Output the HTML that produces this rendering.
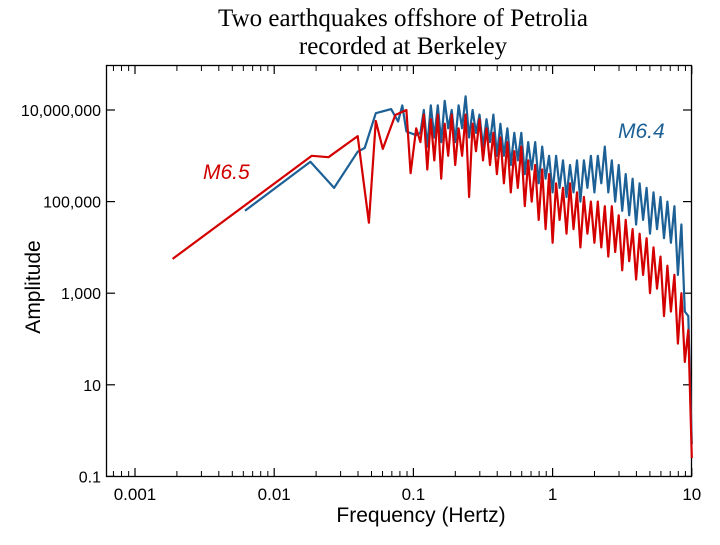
<!DOCTYPE html>
<html><head><meta charset="utf-8"><style>
body{margin:0;background:#fff;width:720px;height:540px;overflow:hidden}
svg text{font-family:"Liberation Sans",sans-serif}
</style></head><body>
<svg id="chart" width="720" height="540" xmlns="http://www.w3.org/2000/svg">
<text x="403" y="26" text-anchor="middle" style="font-family:'Liberation Serif',serif;font-size:25px">Two earthquakes offshore of Petrolia</text>
<text x="403" y="54" text-anchor="middle" style="font-family:'Liberation Serif',serif;font-size:25px">recorded at Berkeley</text>
<rect x="106.5" y="65.5" width="585" height="411" fill="none" stroke="#000" stroke-width="1.3"/>
<g id="ticks"></g>
<g id="series"></g>
<text transform="translate(40,287) rotate(-90)" text-anchor="middle" font-size="21">Amplitude</text>
<text x="421" y="522" text-anchor="middle" font-size="21">Frequency (Hertz)</text>
<text x="203" y="179" font-size="21" font-style="italic" fill="#d00000">M6.5</text>
<text x="618" y="138" font-size="21" font-style="italic" fill="#1c6096">M6.4</text>
</svg>
<script>
const xTickValues=[0.001,0.01,0.1,1,10];
const xTickLabels=["0.001","0.01","0.1","1","10"];
const yTickValues=[1e7,1e5,1e3,10,0.1];
const yTickLabels=["10,000,000","100,000","1,000","10","0.1"];
const noisyLogF=[-0.95,-0.925,-0.9,-0.875,-0.85,-0.825,-0.8,-0.775,-0.75,-0.725,-0.7,-0.675,-0.65,-0.625,-0.6,-0.575,-0.55,-0.525,-0.5,-0.475,-0.45,-0.425,-0.4,-0.375,-0.35,-0.325,-0.3,-0.275,-0.25,-0.225,-0.2,-0.175,-0.15,-0.125,-0.1,-0.075,-0.05,-0.025,0,0.025,0.05,0.075,0.1,0.125,0.15,0.175,0.2,0.225,0.25,0.275,0.3,0.325,0.35,0.375,0.4,0.425,0.45,0.475,0.5,0.525,0.55,0.575,0.6,0.625,0.65,0.675,0.7,0.725,0.75,0.775,0.8,0.825,0.85,0.875,0.9,0.925,0.95,0.975,1.0];
const redLowLogF=[-2.73,-1.73,-1.61,-1.40,-1.32,-1.27,-1.22,-1.13,-1.05,-1.02,-0.98];
const redLowLogA=[3.75,6.0,5.97,6.43,4.54,6.76,6.15,6.89,7.0,5.62,6.6];
const redNoisyLogA=[6.3,6.9,5.7,6.8,5.9,6.9,5.5,6.7,6.0,6.9,5.8,6.6,6.0,6.9,5.1,6.7,6.1,6.8,5.9,6.6,5.8,6.5,5.6,6.4,5.4,6.3,5.2,6.1,5.3,6.2,4.9,5.9,5.0,5.8,4.6,5.7,4.4,5.6,4.1,5.4,4.6,5.3,4.3,5.4,4.4,5.2,4.0,5.1,4.3,5.0,4.1,5.0,4.0,4.9,3.8,4.9,3.9,4.7,3.5,4.6,3.7,4.4,3.3,4.3,3.4,4.2,3.0,4.0,3.1,3.8,2.5,3.6,2.6,3.4,1.9,3.0,1.5,2.2,-0.6];
const blueLowLogF=[-2.21,-1.74,-1.57,-1.40,-1.35,-1.27,-1.16,-1.11,-1.08,-1.05,-0.98];
const blueLowLogA=[4.8,5.87,5.3,6.09,6.17,6.93,7.02,6.75,7.1,6.53,6.45];
const blueNoisyLogA=[6.5,7.0,6.2,7.1,6.4,7.1,6.3,7.2,6.6,7.0,6.3,7.1,6.6,7.3,6.4,7.0,6.5,6.9,6.2,6.8,6.3,6.9,6.0,6.7,6.0,6.6,5.8,6.5,5.9,6.5,5.6,6.3,5.7,6.3,5.4,6.2,5.5,6.0,5.2,6.0,5.3,5.9,5.1,5.8,5.2,5.9,5.0,5.9,5.3,6.0,5.2,6.0,5.4,6.2,5.2,5.9,5.0,5.8,4.8,5.6,4.7,5.5,4.5,5.4,4.6,5.3,4.3,5.2,4.4,5.1,4.2,5.0,4.1,4.9,3.4,4.5,2.6,2.5,-0.3];

const NS="http://www.w3.org/2000/svg";
const X0=135,PXD=139.2,Y0=110,PYD=45.8;
function xScale(lf){return X0+(lf+3)*PXD;}
function yScale(la){return Y0+(7-la)*PYD;}
function mk(t,a,p){const e=document.createElementNS(NS,t);for(const k in a)e.setAttribute(k,a[k]);p.appendChild(e);return e;}
const tg=document.getElementById('ticks');
xTickValues.forEach((v,i)=>{
  const x=xScale(Math.log10(v));
  const t1=mk('line',{x1:x,x2:x,y1:476,y2:468,stroke:'#000','stroke-width':1.2},tg);
  
  
  const t2=mk('line',{x1:x,x2:x,y1:66,y2:74,stroke:'#000','stroke-width':1.2},tg);
  
  
  const l=mk('text',{x:x,y:500,'text-anchor':'middle','font-size':17},tg);
  l.textContent=xTickLabels[i];
  
  
  if(i<xTickValues.length-1){
    for(let m=2;m<=9;m++){
      const xm=xScale(Math.log10(v*m));
      const a=mk('line',{x1:xm,x2:xm,y1:476,y2:471,stroke:'#000','stroke-width':1},tg);
      
      
      const b=mk('line',{x1:xm,x2:xm,y1:66,y2:71,stroke:'#000','stroke-width':1},tg);
      
      
    }
  }
});
for(let m=7;m<=9;m++){const xm=xScale(Math.log10(0.0001*m));
  const a=mk('line',{x1:xm,x2:xm,y1:476,y2:471,stroke:'#000','stroke-width':1},tg);
  
  
  const b=mk('line',{x1:xm,x2:xm,y1:66,y2:71,stroke:'#000','stroke-width':1},tg);
  
  }
yTickValues.forEach((v,i)=>{
  const y=yScale(Math.log10(v));
  const a=mk('line',{x1:107,x2:115,y1:y,y2:y,stroke:'#000','stroke-width':1.2},tg);
  
  
  const b=mk('line',{x1:683,x2:691,y1:y,y2:y,stroke:'#000','stroke-width':1.2},tg);
  
  
  const l=mk('text',{x:101,y:y+6,'text-anchor':'end','font-size':16},tg);
  l.textContent=yTickLabels[i];
  
  
});
const sg=document.getElementById('series');
function drawSeries(lf,la,color,name){
  const d=lf.map((f,i)=>(i?'L':'M')+xScale(f).toFixed(1)+','+yScale(la[i]).toFixed(1)).join('');
  const p=mk('path',{d:d,fill:'none',stroke:color,'stroke-width':2.2,'stroke-linejoin':'round'},sg);
  
  
}
drawSeries(blueLowLogF.concat(noisyLogF),blueLowLogA.concat(blueNoisyLogA),'#1c6096','series-m6-4');
drawSeries(redLowLogF.concat(noisyLogF),redLowLogA.concat(redNoisyLogA),'#d40000','series-m6-5');
</script>
</body></html>
